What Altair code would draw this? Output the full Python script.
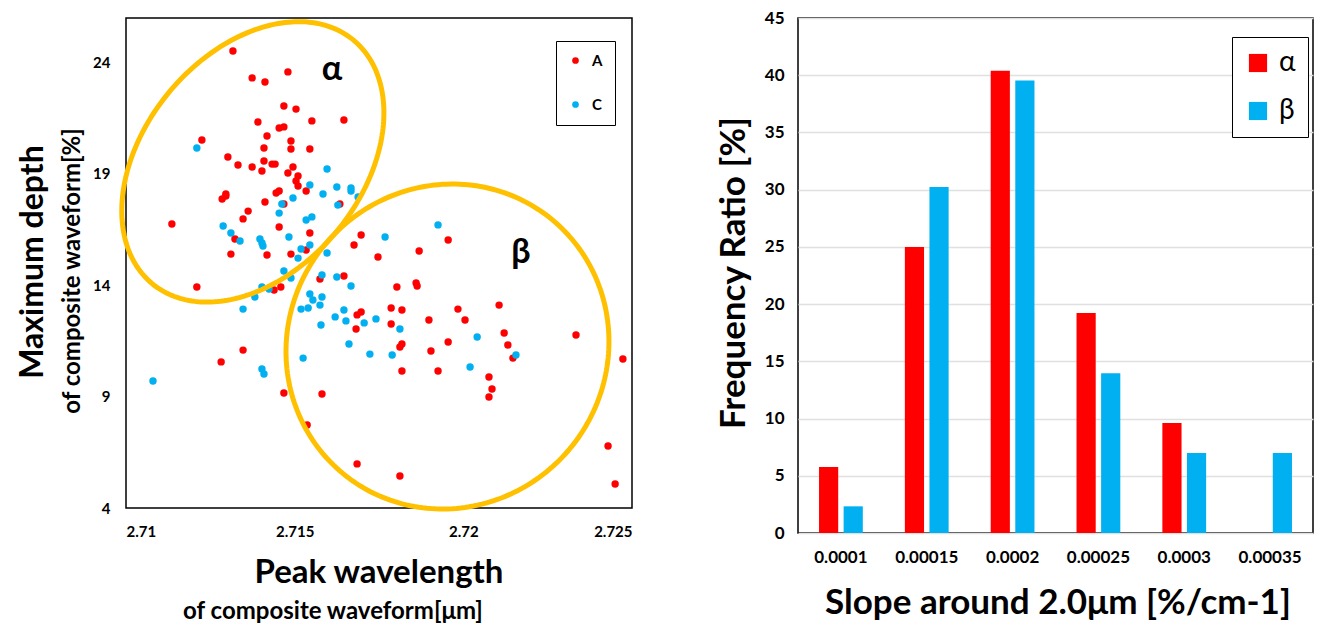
import altair as alt
import numpy as np
import pandas as pd

FONT = "Lato"
RED = "#FF0000"
BLUE = "#00B0F0"
GOLD = "#FFC000"

# ---------------- left panel: scatter ----------------
A_X = [2.71317, 2.71374, 2.71412, 2.71480, 2.71468, 2.71504, 2.71391, 2.71454, 2.71468, 2.71551,
       2.71646, 2.71418, 2.71225, 2.71489, 2.71409, 2.71489, 2.71545, 2.71302, 2.71332, 2.71374,
       2.71409, 2.71433, 2.71442, 2.71403, 2.71495, 2.71480, 2.71510, 2.71504, 2.71510, 2.71534,
       2.71296, 2.71454, 2.71445, 2.71285, 2.71296, 2.71412, 2.71362, 2.71347, 2.71454, 2.71468,
       2.71634, 2.71545, 2.71323, 2.71311, 2.71418, 2.71489, 2.71534, 2.71676, 2.71210, 2.71459,
       2.71439, 2.71575, 2.71646, 2.71685, 2.71697, 2.71747, 2.71869, 2.71955, 2.71803, 2.71860,
       2.71863, 2.71786, 2.71818, 2.71697, 2.71682, 2.71786, 2.71898, 2.71984, 2.72005, 2.71812,
       2.71818, 2.71955, 2.71904, 2.71818, 2.71925, 2.72106, 2.72121, 2.72132, 2.72147, 2.72334,
       2.72473, 2.72076, 2.72085, 2.72076, 2.72429, 2.72450, 2.71685, 2.71812, 2.71282, 2.71347,
       2.71468, 2.71581, 2.71537, 2.71136]
A_Y = [24.52, 23.31, 23.13, 23.58, 22.05, 21.91, 21.33, 21.06, 21.11, 21.38,
       21.42, 20.70, 20.52, 20.48, 20.16, 20.12, 20.12, 19.76, 19.40, 19.31,
       19.58, 19.44, 19.44, 19.13, 19.31, 19.04, 18.91, 18.68, 18.46, 18.23,
       18.10, 18.23, 18.14, 17.87, 18.01, 17.74, 17.33, 16.98, 16.62, 17.65,
       17.65, 16.35, 16.08, 15.40, 15.36, 15.40, 15.58, 15.81, 13.92, 13.92,
       13.79, 14.28, 14.42, 12.67, 16.26, 15.27, 15.54, 16.03, 13.92, 14.10,
       13.97, 12.98, 12.89, 12.80, 12.04, 12.26, 12.44, 12.93, 12.44, 11.23,
       11.36, 11.45, 11.05, 10.15, 10.15, 13.11, 11.86, 11.32, 10.73, 11.77,
       10.69, 9.88, 9.34, 8.98, 6.78, 5.08, 5.98, 5.44, 10.56, 11.09,
       9.16, 9.12, 7.73, 16.75]

C_X = [2.71210, 2.71596, 2.71545, 2.71625, 2.71667, 2.71667, 2.71688, 2.71584, 2.71495, 2.71462,
       2.71628, 2.71454, 2.71534, 2.71551, 2.71288, 2.71311, 2.71338, 2.71397, 2.71403, 2.71406,
       2.71483, 2.71519, 2.71545, 2.71510, 2.71596, 2.71468, 2.71489, 2.71581, 2.71625, 2.71667,
       2.71403, 2.71382, 2.71424, 2.71545, 2.71554, 2.71581, 2.71575, 2.71540, 2.71519, 2.71347,
       2.71620, 2.71646, 2.71652, 2.71578, 2.71706, 2.71741, 2.71812, 2.71661, 2.71723, 2.71789,
       2.71525, 2.72041, 2.72020, 2.72156, 2.71925, 2.71768, 2.71080, 2.71403, 2.71409]
C_Y = [20.16, 19.22, 18.50, 18.41, 18.37, 18.23, 17.96, 18.10, 17.92, 17.65,
       17.60, 17.24, 16.93, 17.07, 16.66, 16.35, 15.99, 16.08, 15.90, 15.76,
       16.17, 15.63, 15.81, 15.22, 15.45, 14.64, 14.33, 14.46, 14.37, 13.97,
       13.92, 13.47, 13.83, 13.61, 13.34, 13.47, 13.11, 12.98, 12.93, 12.93,
       12.58, 12.89, 12.40, 12.22, 12.31, 12.49, 12.04, 11.36, 10.91, 10.87,
       10.73, 11.68, 10.33, 10.87, 16.71, 16.17, 9.70, 10.24, 10.02]

X_TICKS = [2.71, 2.715, 2.72, 2.725]
Y_TICKS = [4, 9, 14, 19, 24]

# ellipse annotations: centre and two conjugate semi-diameters (data units)
ELLIPSE_NAMES = ["alpha", "beta"]
ELLIPSE_CX = [2.71376, 2.71953]
ELLIPSE_CY = [19.54, 11.25]
ELLIPSE_UX = [0.002985, 0.003095]
ELLIPSE_UY = [5.466, 5.707]
ELLIPSE_VX = [-0.002487, -0.003652]
ELLIPSE_VY = [3.121, 4.544]

REGION_LABELS = ["α", "β"]
REGION_X = [2.71611, 2.72171]
REGION_Y = [23.65, 15.45]

# ---------------- right panel: grouped bars ----------------
SLOPE_BINS = ["0.0001", "0.00015", "0.0002", "0.00025", "0.0003", "0.00035"]
ALPHA_PCT = [5.77, 25.0, 40.38, 19.23, 9.62, 0.0]
BETA_PCT = [2.33, 30.23, 39.53, 13.95, 6.98, 6.98]
Y_TICKS_R = [0, 5, 10, 15, 20, 25, 30, 35, 40, 45]

# ---------------- build left ----------------
scatter_df = pd.DataFrame({
    "x": A_X + C_X,
    "y": A_Y + C_Y,
    "group": ["A"] * len(A_X) + ["C"] * len(C_X),
})

rows = []
tt = np.linspace(0, 2 * np.pi, 241)
for k, name in enumerate(ELLIPSE_NAMES):
    for i, t in enumerate(tt):
        rows.append({
            "name": name, "i": i,
            "x": ELLIPSE_CX[k] + ELLIPSE_UX[k] * np.cos(t) + ELLIPSE_VX[k] * np.sin(t),
            "y": ELLIPSE_CY[k] + ELLIPSE_UY[k] * np.cos(t) + ELLIPSE_VY[k] * np.sin(t),
        })
ellipse_df = pd.DataFrame(rows)
region_df = pd.DataFrame({"x": REGION_X, "y": REGION_Y, "t": REGION_LABELS})

xs = alt.Scale(domain=[2.71, 2.725], nice=False, zero=False)
ys = alt.Scale(domain=[4, 26], nice=False, zero=False)
x_axis = alt.Axis(values=X_TICKS, format="~g", title=None, grid=False, domain=False, ticks=False,
                  labelFont=FONT, labelFontWeight="bold", labelFontSize=15, labelColor="black",
                  labelPadding=16)
y_axis = alt.Axis(values=Y_TICKS, format="~g", title=None, grid=False, domain=False, ticks=False,
                  labelFont=FONT, labelFontWeight="bold", labelFontSize=15, labelColor="black",
                  labelPadding=16)


def X():
    return alt.X("x:Q", scale=xs, axis=x_axis)


def Y():
    return alt.Y("y:Q", scale=ys, axis=y_axis)


points = alt.Chart(scatter_df).mark_circle(size=55, opacity=1).encode(
    x=X(), y=Y(),
    color=alt.Color("group:N", scale=alt.Scale(domain=["A", "C"], range=[RED, BLUE]),
                    legend=alt.Legend(title=None, orient="none", legendX=430, legendY=23,
                                      strokeColor="black", fillColor="white", padding=12,
                                      rowPadding=28, symbolSize=45, symbolType="circle",
                                      labelFont=FONT, labelFontSize=15, labelFontWeight="bold",
                                      labelColor="black", labelOffset=9)),
)
ellipses = alt.Chart(ellipse_df).mark_line(strokeWidth=5, color=GOLD, strokeCap="round").encode(
    x=X(), y=Y(), detail="name:N", order="i:Q"
)
region_text = alt.Chart(region_df).mark_text(font=FONT, fontWeight="bold", fontSize=34,
                                             color="black", baseline="middle").encode(
    x=X(), y=Y(), text="t:N"
)


def label(text, px, py, size, angle=0):
    return alt.Chart(pd.DataFrame({"t": [text]})).mark_text(
        font=FONT, fontWeight="bold", fontSize=size, color="black", angle=angle,
        baseline="middle", align="center").encode(
        x=alt.value(px), y=alt.value(py), text="t:N")


left = alt.layer(
    points, ellipses, region_text,
    label("Maximum depth", -93, 244, 32, 270),
    label("of composite waveform[%]", -53, 253, 24, 270),
    label("Peak wavelength", 253, 555, 33),
    label("of composite waveform[μm]", 207, 594, 24),
).properties(width=506, height=490)

# ---------------- build right ----------------
bar_df = pd.DataFrame({
    "bin": SLOPE_BINS * 2,
    "series": ["α"] * len(SLOPE_BINS) + ["β"] * len(SLOPE_BINS),
    "pct": ALPHA_PCT + BETA_PCT,
})
bars = alt.Chart(bar_df).mark_bar().encode(
    x=alt.X("bin:N", sort=SLOPE_BINS, scale=alt.Scale(paddingInner=0.49, paddingOuter=0.245),
            axis=alt.Axis(title=None, labelAngle=0, ticks=False, domain=False, labelFont=FONT,
                          labelFontWeight="bold", labelFontSize=17, labelColor="black",
                          labelPadding=16)),
    xOffset=alt.XOffset("series:N", sort=["α", "β"], scale=alt.Scale(paddingInner=0.22, paddingOuter=0)),
    y=alt.Y("pct:Q", scale=alt.Scale(domain=[0, 45], nice=False),
            axis=alt.Axis(values=Y_TICKS_R, title=None, grid=True, gridColor="#E0E0E0", gridWidth=1.3,
                          ticks=False, domain=False, labelFont=FONT, labelFontWeight="bold",
                          labelFontSize=17, labelColor="black", labelPadding=14)),
    color=alt.Color("series:N", scale=alt.Scale(domain=["α", "β"], range=[RED, BLUE]),
                    legend=alt.Legend(title=None, orient="none", legendX=434, legendY=19,
                                      strokeColor="black", fillColor="white", padding=12,
                                      rowPadding=20, symbolSize=330, symbolType="square",
                                      symbolStrokeWidth=0, labelFont=FONT, labelFontSize=28,
                                      labelColor="black", labelOffset=7)),
)

right = alt.layer(
    bars,
    label("Frequency Ratio [%]", -64, 255, 35, 270),
    label("Slope around 2.0μm [%/cm-1]", 260, 585, 35),
).properties(width=515, height=515)

chart = alt.hconcat(left, right, spacing=166, bounds="flush").resolve_scale(
    color="independent"
).configure_view(stroke="black", strokeWidth=1.5).properties(
    padding={"left": 8, "top": 0, "right": 0, "bottom": 0}
)

chart.save("out.html", embed_options={"renderer": "svg", "actions": False})
